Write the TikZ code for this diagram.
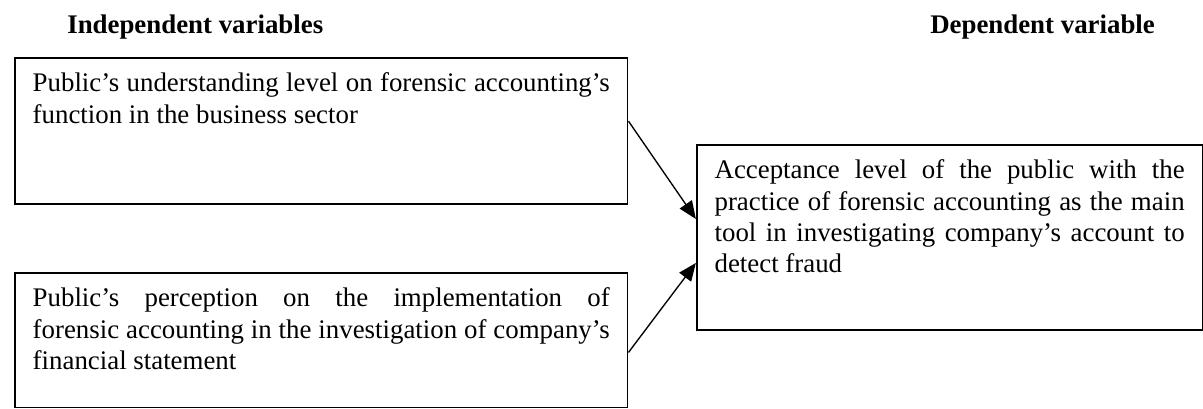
\documentclass[tikz,border=0pt]{standalone}
\usepackage{fontspec}
\setmainfont{Liberation Serif}
\usepackage{tikz}
\usetikzlibrary{arrows.meta}
\hyphenpenalty=10000
\exhyphenpenalty=10000
\tolerance=9999
\emergencystretch=2em

\begin{document}
\begin{tikzpicture}[
    varbox/.style={draw, thick, rectangle, anchor=north west, align=justify,
        inner xsep=0.28cm, inner ysep=0.24cm, text height=0.29cm,
        font=\fontsize{12}{14}\selectfont},
    heading/.style={anchor=west, inner sep=0pt, font=\fontsize{12}{14}\selectfont\bfseries},
    link/.style={semithick, -{Triangle[length=2.8mm,width=2.3mm]}}
]
                            % Page frame
                            \useasboundingbox (0,0) rectangle (18.89,6.41);

                            % Column headings
                            \node[heading] (indep) at (1.05,5.98) {Independent variables};
                            \node[heading] (dep) at (14.60,5.98) {Dependent variable};

                            % Top independent variable
                            \node[varbox, text width=9.06cm, text depth=1.52cm] (var1) at (0.22,5.51)
                                {Public's understanding level on forensic accounting's function in the business sector};

                            % Bottom independent variable
                            \node[varbox, text width=9.06cm, text depth=1.34cm] (var2) at (0.22,2.135)
                                {Public's perception on the implementation of\linebreak forensic accounting in the investigation of company's\linebreak financial statement};

                            % Dependent variable
                            \node[varbox, text width=7.38cm, text depth=2.13cm] (accept) at (10.927,4.145)
                                {Acceptance level of the public with the practice of forensic accounting as the main tool in investigating company's account to detect fraud};

                            % Connections to the dependent variable
                            \draw[link] ([yshift=0.157cm]var1.east) -- ([yshift=0.29cm]accept.west);
                            \draw[link] ([yshift=-0.19cm]var2.east) -- ([yshift=-0.40cm]accept.west);

                        \end{tikzpicture}
\end{document}
